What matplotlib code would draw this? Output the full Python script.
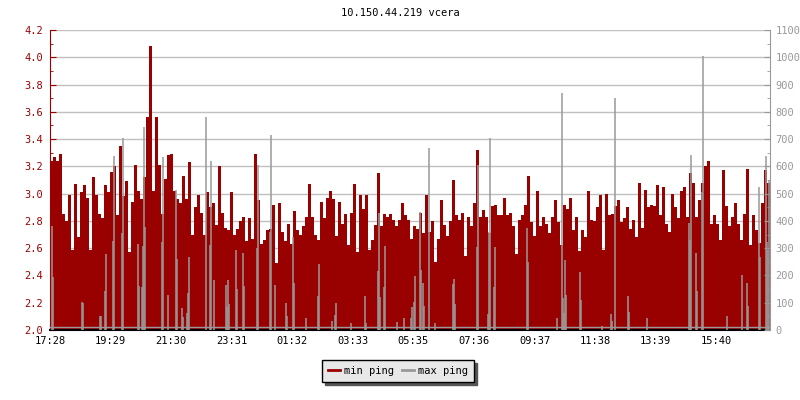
import numpy as np
import matplotlib
matplotlib.use("Agg")
import matplotlib.pyplot as plt

plt.rcParams["font.family"] = ["DejaVu Sans Mono"]
plt.rcParams["font.size"] = 7.5

RED = "#990000"
GREY = "#999999"

title = "10.150.44.219 vcera"
start_label = "17:28"
tick_labels = ["17:28", "19:29", "21:30", "23:31", "01:32", "03:33",
               "05:35", "07:36", "09:37", "11:38", "13:39", "15:40"]
span_min = 1440          # 24 h shown
min_step = 6             # minutes per min-ping sample

# min ping [ms], one value every 6 minutes starting 17:28
min_ping = [
    3.24, 3.27, 3.24, 3.29, 2.85, 2.80, 2.99, 2.59, 3.07, 2.68,
    3.01, 3.06, 2.97, 2.59, 3.12, 2.99, 2.85, 2.82, 3.06, 3.01,
    3.16, 3.20, 2.84, 3.35, 2.98, 3.09, 2.57, 2.94, 3.21, 3.02,
    2.96, 3.12, 3.56, 4.08, 3.02, 3.56, 3.21, 2.85, 3.11, 3.28,
    3.29, 3.02, 2.96, 2.93, 3.13, 2.96, 3.23, 2.70, 2.90, 2.99,
    2.86, 2.70, 3.01, 2.90, 2.93, 2.77, 3.20, 2.86, 2.75, 2.73,
    3.01, 2.70, 2.74, 2.80, 2.83, 2.65, 2.82, 2.67, 3.29, 2.95,
    2.63, 2.66, 2.73, 2.74, 2.92, 2.49, 2.93, 2.72, 2.65, 2.78,
    2.63, 2.87, 2.73, 2.70, 2.76, 2.83, 3.07, 2.83, 2.70, 2.66,
    2.94, 2.82, 2.97, 3.02, 2.96, 2.69, 2.94, 2.78, 2.85, 2.62,
    2.86, 3.07, 2.57, 2.99, 2.89, 2.99, 2.59, 2.66, 2.77, 3.15,
    2.76, 2.85, 2.83, 2.85, 2.81, 2.76, 2.81, 2.93, 2.84, 2.81,
    2.67, 2.76, 2.74, 2.86, 2.71, 2.99, 2.72, 2.80, 2.50, 2.67,
    2.95, 2.77, 2.69, 2.80, 3.10, 2.84, 2.81, 2.86, 2.54, 2.83,
    2.76, 2.93, 3.32, 2.83, 2.88, 2.83, 2.71, 2.91, 2.92, 2.84,
    2.84, 2.97, 2.84, 2.86, 2.76, 2.56, 2.81, 2.84, 2.92, 3.13,
    2.79, 2.69, 3.02, 2.76, 2.83, 2.78, 2.71, 2.83, 2.95, 2.79,
    2.62, 2.92, 2.89, 2.97, 2.73, 2.83, 2.58, 2.73, 2.68, 3.02,
    2.81, 2.80, 2.90, 2.99, 2.59, 3.00, 2.84, 2.85, 2.91, 2.95,
    2.79, 2.82, 2.90, 2.74, 2.81, 2.68, 3.08, 2.75, 3.03, 2.90,
    2.92, 2.91, 3.06, 2.84, 3.05, 2.78, 2.72, 3.00, 2.90, 2.82,
    3.02, 3.05, 2.83, 3.15, 3.08, 2.83, 2.95, 3.08, 3.20, 3.24,
    2.78, 2.84, 2.78, 2.66, 3.17, 2.91, 2.76, 2.83, 2.93, 2.78,
    2.66, 2.85, 3.18, 2.62, 2.84, 2.73, 2.64, 2.93, 3.17, 3.08,
]

# max ping [ms]: typical level, and spikes as (minutes after 17:28, value)
max_base = 10
max_spikes = [
    (4, 380), (6, 195), (64, 104), (66, 98), (100, 51), (102, 51), (110, 144),
    (112, 279), (126, 325), (128, 638), (144, 355), (146, 703), (176, 315),
    (178, 161), (184, 159), (186, 308), (188, 746), (190, 379), (224, 324),
    (226, 636), (236, 128), (252, 513), (254, 260), (264, 79), (266, 49),
    (274, 61), (276, 134), (278, 269), (312, 782), (320, 312), (322, 620),
    (328, 183), (352, 165), (354, 86), (356, 183), (358, 95), (372, 293),
    (374, 149), (386, 281), (388, 161), (414, 300), (416, 605), (440, 361),
    (442, 715), (450, 165), (472, 98), (474, 51), (486, 342), (488, 171),
    (512, 43), (536, 125), (538, 242), (564, 33), (570, 55), (572, 100),
    (602, 24), (630, 125), (632, 24), (656, 218), (658, 430), (660, 120),
    (668, 159), (670, 308), (694, 29), (708, 45), (722, 45), (724, 83),
    (728, 104), (730, 198), (740, 434), (742, 220), (746, 171), (748, 88),
    (758, 669), (770, 24), (806, 167), (808, 187), (810, 95), (854, 306),
    (856, 605), (876, 59), (878, 358), (880, 705), (888, 156), (890, 306),
    (954, 373), (956, 250), (1014, 45), (1024, 870), (1026, 116), (1028, 64),
    (1030, 257), (1032, 128), (1060, 214), (1062, 110), (1104, 15), (1122, 59),
    (1124, 33), (1130, 852), (1156, 125), (1158, 65), (1194, 45), (1278, 391),
    (1280, 330), (1282, 642), (1292, 284), (1294, 143), (1304, 507),
    (1306, 1005), (1354, 51), (1384, 202), (1394, 171), (1396, 88),
    (1418, 526), (1420, 266), (1432, 638), (1434, 324), (1436, 293),
    (1438, 550),
]


def minutes_after(label, start):
    h, m = map(int, label.split(":"))
    h0, m0 = map(int, start.split(":"))
    return (h * 60 + m - h0 * 60 - m0) % 1440


tick_pos = [minutes_after(l, start_label) for l in tick_labels]
spike_t = [t for t, _ in max_spikes]
spike_v = [v for _, v in max_spikes]

fig = plt.figure(figsize=(8, 4), dpi=100)
ax = fig.add_axes([50 / 800, 70 / 400, 720 / 800, 300 / 400])
ax2 = ax.twinx()

edges = np.arange(len(min_ping) + 1) * min_step
ax.stairs(min_ping, edges, baseline=2.0, fill=True, color=RED, lw=0, zorder=2)
ax.set_xlim(0, span_min)
ax.set_ylim(2.0, 4.2)
ax.set_yticks(np.arange(2.0, 4.21, 0.2))
ax.set_yticks(np.arange(2.1, 4.2, 0.2), minor=True)
ax.set_yticklabels([f"{v:.1f}" for v in np.arange(2.0, 4.21, 0.2)])
ax.grid(axis="y", color="#c0c0c0", lw=1, zorder=0)
ax.set_axisbelow(True)
ax.set_xticks(tick_pos)
ax.set_xticklabels(tick_labels)

ax2.axhline(max_base, color=GREY, lw=1, zorder=3)
ax2.vlines(spike_t, 0, spike_v, color=GREY, lw=1.1, zorder=3)
ax2.set_ylim(0, 1100)
ax2.set_yticks(np.arange(0, 1101, 100))
ax2.set_yticks(np.arange(50, 1100, 100), minor=True)

for a in (ax, ax2):
    a.spines["top"].set_visible(False)
ax.spines["left"].set_color(RED)
ax.spines["right"].set_visible(False)
ax.spines["bottom"].set_color("black")
ax.spines["bottom"].set_linewidth(1.5)
ax2.spines["left"].set_visible(False)
ax2.spines["bottom"].set_visible(False)
ax2.spines["right"].set_color(GREY)

ax.tick_params(axis="y", which="both", direction="in", colors=RED, labelcolor=RED, pad=5)
ax.tick_params(axis="y", which="major", length=4)
ax.tick_params(axis="y", which="minor", length=2)
ax.tick_params(axis="x", direction="in", length=4, colors="black", pad=4)
ax2.tick_params(axis="y", which="both", direction="in", colors=GREY, labelcolor=GREY, pad=4)
ax2.tick_params(axis="y", which="major", length=4)
ax2.tick_params(axis="y", which="minor", length=2)

fig.text(0.5, 1 - 13 / 400, title, ha="center", va="center", fontsize=7.5)

h1 = plt.Line2D([], [], color=RED, lw=2)
h2 = plt.Line2D([], [], color=GREY, lw=2)
leg = fig.legend([h1, h2], ["min ping", "max ping"], loc="center",
                 bbox_to_anchor=(398 / 800, 1 - 371 / 400), ncol=2,
                 frameon=True, fancybox=False, shadow={"color": "#555555", "alpha": 1},
                 facecolor="#e8e8e8", edgecolor="black", framealpha=1,
                 handlelength=1.2, handletextpad=0.4, columnspacing=0.7,
                 borderpad=0.55, borderaxespad=0)
leg.get_frame().set_linewidth(1)

fig.savefig("out.png", dpi=100)
